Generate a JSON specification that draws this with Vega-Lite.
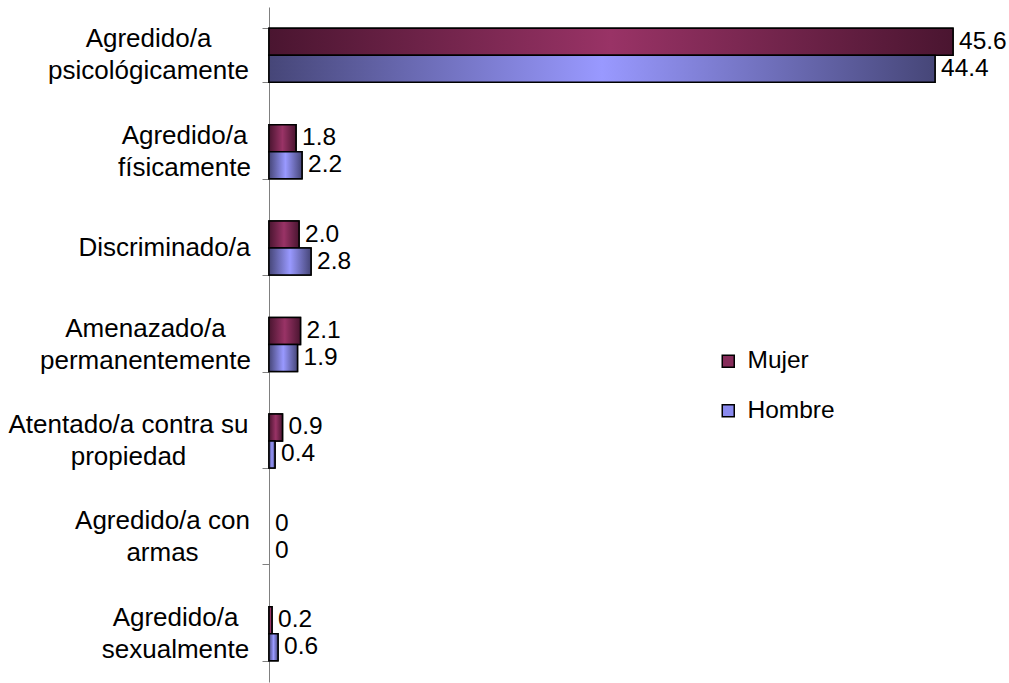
{
  "$schema": "https://vega.github.io/schema/vega-lite/v6.json",
  "width": 740,
  "height": 675,
  "autosize": {"type": "none"},
  "padding": {"left": 269, "top": 7, "right": 0, "bottom": 1},
  "background": "white",
  "config": {"view": {"stroke": null}, "font": "Liberation Sans"},
  "data": {
    "values": [
      {"cat": "Agredido/a|psicológicamente", "series": "Mujer", "value": 45.6},
      {"cat": "Agredido/a|psicológicamente", "series": "Hombre", "value": 44.4},
      {"cat": "Agredido/a|físicamente", "series": "Mujer", "value": 1.8},
      {"cat": "Agredido/a|físicamente", "series": "Hombre", "value": 2.2},
      {"cat": "Discriminado/a", "series": "Mujer", "value": 2.0},
      {"cat": "Discriminado/a", "series": "Hombre", "value": 2.8},
      {"cat": "Amenazado/a|permanentemente", "series": "Mujer", "value": 2.1},
      {"cat": "Amenazado/a|permanentemente", "series": "Hombre", "value": 1.9},
      {"cat": "Atentado/a contra su|propiedad", "series": "Mujer", "value": 0.9},
      {"cat": "Atentado/a contra su|propiedad", "series": "Hombre", "value": 0.4},
      {"cat": "Agredido/a con|armas", "series": "Mujer", "value": 0},
      {"cat": "Agredido/a con|armas", "series": "Hombre", "value": 0},
      {"cat": "Agredido/a|sexualmente", "series": "Mujer", "value": 0.2},
      {"cat": "Agredido/a|sexualmente", "series": "Hombre", "value": 0.6}
    ]
  },
  "resolve": {"axis": {"y": "independent"}},
  "encoding": {
    "yOffset": {
      "field": "series",
      "type": "nominal",
      "scale": {"domain": ["Mujer", "Hombre"], "paddingInner": 0, "paddingOuter": 0}
    },
    "x": {
      "field": "value",
      "type": "quantitative",
      "scale": {"domain": [0, 49.333], "nice": false, "zero": true},
      "axis": null
    },
    "strokeOpacity": {"condition": {"test": "datum.value === 0", "value": 0}, "value": 1}
  },
  "layer": [
    {
      "mark": {"type": "bar", "stroke": "black", "strokeWidth": 1.5},
      "encoding": {
        "y": {
          "field": "cat",
          "type": "nominal",
          "scale": {
            "domain": ["Agredido/a|psicológicamente", "Agredido/a|físicamente", "Discriminado/a", "Amenazado/a|permanentemente", "Atentado/a contra su|propiedad", "Agredido/a con|armas", "Agredido/a|sexualmente"],
            "paddingInner": 0.44,
            "paddingOuter": 0.22
          },
          "axis": {
            "orient": "left",
            "title": null,
            "labelExpr": "split(datum.value, '|')",
            "labelAlign": "center",
            "labelBaseline": "middle",
            "labelPadding": {
              "condition": [
                {"test": "datum.value == 'Agredido/a|psicológicamente'", "value": 121},
                {"test": "datum.value == 'Discriminado/a'", "value": 105},
                {"test": "datum.value == 'Amenazado/a|permanentemente'", "value": 124},
                {"test": "datum.value == 'Atentado/a contra su|propiedad'", "value": 141},
                {"test": "datum.value == 'Agredido/a con|armas'", "value": 107},
                {"test": "datum.value == 'Agredido/a|sexualmente'", "value": 94}
              ],
              "value": 85
            },
            "labelOffset": {
              "condition": {"test": "indexof(datum.value, '|') >= 0", "value": -16},
              "value": 0
            },
            "labelFontSize": 26,
            "labelFont": "Liberation Sans",
            "labelColor": "black",
            "labelLineHeight": 32,
            "labelLimit": 400,
            "labelOverlap": false,
            "ticks": false,
            "domain": false,
            "grid": false
          }
        },
        "fill": {
          "field": "series",
          "type": "nominal",
          "scale": {"domain": ["Mujer", "Hombre"], "range": ["#862c5a", "#8a8aee"]},
          "legend": {
            "title": null,
            "orient": "none",
            "legendX": 447,
            "legendY": 342,
            "padding": 0,
            "symbolType": "square",
            "symbolSize": 144,
            "symbolStrokeColor": "black",
            "symbolStrokeWidth": 1.5,
            "symbolOpacity": 1,
            "labelFontSize": 24.5,
            "labelFont": "Liberation Sans",
            "labelColor": "black",
            "labelOffset": 7,
            "rowPadding": 24.5
          }
        }
      }
    },
    {
      "transform": [{"filter": "datum.series === 'Mujer'"}],
      "mark": {
        "type": "bar",
        "stroke": "black",
        "strokeWidth": 1.5,
        "fill": {
          "gradient": "linear", "x1": 0, "y1": 0, "x2": 1, "y2": 0,
          "stops": [
            {"offset": 0, "color": "#4a1530"},
            {"offset": 0.5, "color": "#993366"},
            {"offset": 1, "color": "#4a1530"}
          ]
        }
      },
      "encoding": {
        "y": {
          "field": "cat",
          "type": "nominal",
          "axis": {
            "orient": "left",
            "title": null,
            "labels": false,
            "tickBand": "extent",
            "tickSize": 7,
            "tickColor": "#808080",
            "tickWidth": 1,
            "domainColor": "#808080",
            "domainWidth": 1,
            "grid": false
          }
        }
      }
    },
    {
      "transform": [{"filter": "datum.series === 'Hombre'"}],
      "mark": {
        "type": "bar",
        "stroke": "black",
        "strokeWidth": 1.5,
        "fill": {
          "gradient": "linear", "x1": 0, "y1": 0, "x2": 1, "y2": 0,
          "stops": [
            {"offset": 0, "color": "#464678"},
            {"offset": 0.5, "color": "#9999ff"},
            {"offset": 1, "color": "#464678"}
          ]
        }
      },
      "encoding": {
        "y": {"field": "cat", "type": "nominal", "axis": null}
      }
    },
    {
      "mark": {"type": "text", "align": "left", "baseline": "middle", "dx": 6, "fontSize": 24.5, "font": "Liberation Sans", "color": "black"},
      "encoding": {
        "y": {"field": "cat", "type": "nominal", "axis": null},
        "strokeOpacity": null,
        "text": {"condition": {"test": "datum.value === 0", "value": "0"}, "field": "value", "type": "quantitative", "format": ".1f"}
      }
    }
  ]
}
